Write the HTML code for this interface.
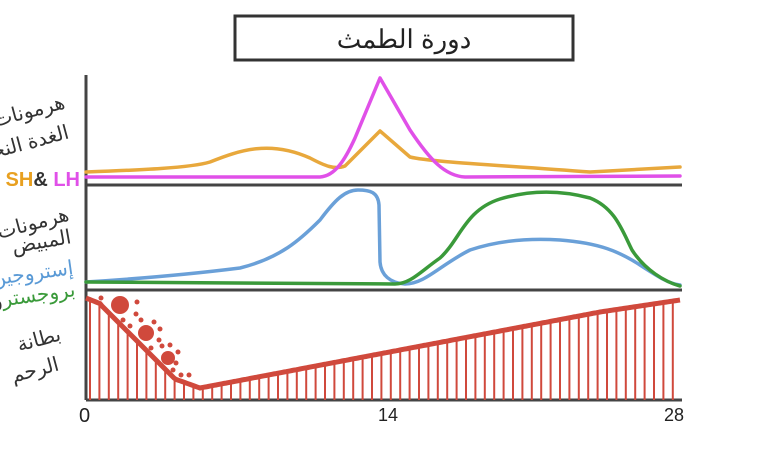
<!DOCTYPE html>
<html><head><meta charset="utf-8"><style>
body{margin:0;background:#fff;width:780px;height:470px;overflow:hidden}
svg{display:block}
text{font-family:"Liberation Sans","Noto Sans CJK SC",sans-serif}
</style></head><body>
<svg id="s" width="780" height="470" viewBox="0 0 780 470">
<rect x="235" y="16" width="338" height="44" fill="#fff" stroke="#333" stroke-width="3"/>
<text x="404" y="48" text-anchor="middle" font-size="26" fill="#222">دورة الطمث</text>
<g stroke="#444" stroke-width="3" fill="none">
<line x1="86" y1="75" x2="86" y2="400"/>
<line x1="86" y1="185" x2="682" y2="185"/>
<line x1="86" y1="290" x2="682" y2="290"/>
<line x1="86" y1="400" x2="682" y2="400"/>
</g>
<g id="bars" stroke="#d0493c" stroke-width="2"></g>
<path id="ut" fill="none" stroke="#d0493c" stroke-width="5" d=""/>
<g fill="#d0493c">
<circle cx="120" cy="305" r="9"/><circle cx="146" cy="333" r="8"/><circle cx="168" cy="358" r="7"/>
<circle cx="101" cy="298" r="2.5"/><circle cx="137" cy="302" r="2.5"/><circle cx="136" cy="314" r="2.5"/>
<circle cx="123" cy="320" r="2.5"/><circle cx="130" cy="326" r="2.5"/><circle cx="141" cy="320" r="2.5"/>
<circle cx="154" cy="322" r="2.5"/><circle cx="160" cy="329" r="2.5"/><circle cx="159" cy="340" r="2.5"/>
<circle cx="151" cy="348" r="2.5"/><circle cx="162" cy="346" r="2.5"/><circle cx="170" cy="345" r="2.5"/>
<circle cx="178" cy="352" r="2.5"/><circle cx="176" cy="363" r="2.5"/><circle cx="173" cy="370" r="2.5"/>
<circle cx="181" cy="375" r="2.5"/><circle cx="189" cy="375" r="2.5"/>
</g>
<g fill="none" stroke-width="3.5" stroke-linecap="round" stroke-linejoin="round">
<path stroke="#e8a83c" d="M86,172 C140,170 190,168 210,162 C240,150 270,140 310,158 C325,166 335,170 345,166 L380,131 L410,157 C430,162 500,165 590,172 L680,167"/>
<path stroke="#e050e8" d="M86,177 L320,177 C335,176 345,160 355,138 L380,78 L410,130 C430,160 445,176 465,177 L680,176"/>
<path stroke="#6aa0d8" d="M86,282 C150,278 200,273 240,268 C280,258 300,240 320,220 C335,200 345,190 358,190 C370,190 378,192 379,205 L380,262 C381,275 390,283 405,284 C425,284 440,265 470,250 C500,240 530,238 560,240 C600,243 620,252 640,265 C660,278 670,284 680,285"/>
<path stroke="#3a9a3a" d="M86,282 L395,284 C410,284 420,272 440,258 C460,240 465,210 500,199 C530,190 560,190 590,198 C615,208 622,230 632,250 C645,270 665,282 680,286"/>
</g>
<g font-size="18" fill="#222">
<text x="378" y="421">14</text>
<text x="79" y="422" font-size="20">0</text>
<text x="664" y="421">28</text>
</g>
<g font-size="20" fill="#333" text-anchor="end">
<text x="66" y="108" transform="rotate(-15 66 108)">هرمونات</text>
<text x="70" y="138" transform="rotate(-15 70 138)">الغدة النخامية</text>
<text x="70" y="220" transform="rotate(-15 70 220)">هرمونات</text>
<text x="72" y="243" transform="rotate(-10 72 243)">المبيض</text>
<text x="74" y="274" fill="#5a9ad6" transform="rotate(-8 74 274)">إستروجين</text>
<text x="76" y="296" transform="rotate(-8 76 296)"><tspan fill="#3a9a3a">بروجستر</tspan>و</text>
<text x="62" y="340" transform="rotate(-15 62 340)">بطانة</text>
<text x="60" y="370" transform="rotate(-15 60 370)">الرحم</text>
</g>
<text x="80" y="186" text-anchor="end" font-size="20" font-weight="bold"><tspan fill="#e8a020">SH</tspan><tspan fill="#333">&amp;</tspan><tspan fill="#e050e8"> LH</tspan></text>
</svg>
<script>
function uy(x){
 if(x<=100) return 298+(x-86)*0.4;
 if(x<=175) return 304+(x-100)*1.0;
 if(x<=200) return 379+ (x-175)*0.36;
 if(x<=600) return 388-(x-200)*0.19;
 return 312-(x-600)*0.15;
}
var d="",b="";
for(var x=86;x<=680;x+=2){d+=(x==86?"M":"L")+x+","+uy(x).toFixed(1);}
document.getElementById("ut").setAttribute("d",d);
for(var x=90;x<=678;x+=9.4){b+='<line x1="'+x.toFixed(1)+'" y1="'+uy(x).toFixed(1)+'" x2="'+x.toFixed(1)+'" y2="400"/>';}
document.getElementById("bars").innerHTML=b;
</script>
</body></html>
